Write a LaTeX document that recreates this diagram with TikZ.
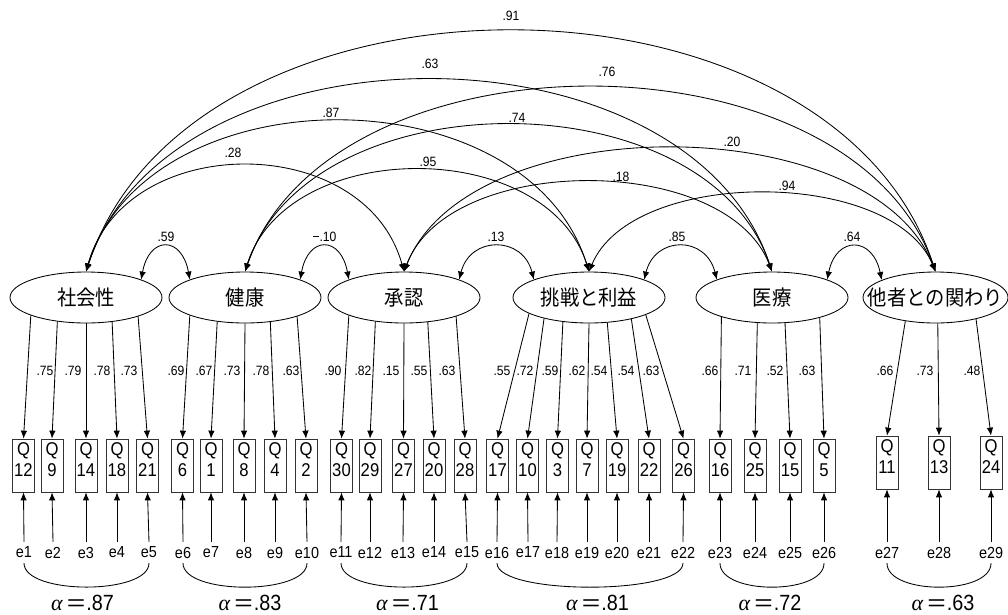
\documentclass[tikz,border=0pt]{standalone}
\usepackage{graphicx}
\usepackage{fontspec}
\setmainfont{Liberation Sans}[FakeStretch=0.9]
\newfontfamily\jpfont{Noto Sans CJK JP}[FakeStretch=0.92]
\newfontfamily\grkfont{Liberation Serif}
\usetikzlibrary{arrows.meta,shapes.geometric}
\newcommand\qtxt[1]{\parbox[c][53pt][t]{22pt}{\centering\fontsize{18.5}{21}\selectfont\vspace*{3.5pt}Q\\#1}}
\newcommand\alphalbl[1]{{\grkfont\itshape α}\hspace{4pt}\scalebox{1.6}[1]{=}\hspace{1pt}#1}
\begin{document}
\begin{tikzpicture}[x=1pt,y=-1pt,
  arr/.style={-{Latex[length=8pt,width=6.5pt]}, line width=0.85pt},
  dbl/.style={{Latex[length=8pt,width=6.5pt]}-{Latex[length=8pt,width=6.5pt]}, line width=0.85pt},
  lat/.style={ellipse, draw, line width=0.85pt, minimum width=152pt, minimum height=51pt, inner sep=0pt, font=\jpfont\fontsize{21}{21}\selectfont},
  obs/.style={draw=black!80, line width=0.75pt, inner sep=0pt},
  err/.style={inner sep=0pt, outer sep=5pt, font=\fontsize{16}{16}\selectfont},
  lbl/.style={inner sep=0pt, font=\fontsize{13.5}{13.5}\selectfont},
  alp/.style={anchor=base, inner sep=0pt, font=\fontsize{22}{22}\selectfont},
  earc/.style={line width=0.85pt}
]
\useasboundingbox (0,0) rectangle (1008,614);

% latent variables
\node[lat] (L1) at (86,297.5) {\makebox[0pt]{社会性}};
\node[lat] (L2) at (245,297.5) {\makebox[0pt]{健康}};
\node[lat] (L3) at (404,297.5) {\makebox[0pt]{承認}};
\node[lat] (L4) at (589,297.5) {\makebox[0pt]{挑戦と利益}};
\node[lat] (L5) at (772,297.5) {\makebox[0pt]{医療}};
\node[lat, minimum width=145pt] (L6) at (935.5,297.5) {\makebox[0pt]{他者との関わり}};

% observed variables
\foreach \n/\x in {12/23.5, 9/52, 14/86, 18/117, 21/147.5, 6/182.5, 1/211, 8/244, 4/275, 2/306, 30/341.5, 29/370, 27/403.5, 20/434, 28/465, 17/497.5, 10/527.5, 3/557.5, 7/587, 19/617, 22/649, 26/683.5, 16/720, 25/755, 15/790, 5/824}
  \node[obs] (Q\n) at (\x,465.5) {\qtxt{\n}};
\foreach \n/\x in {11/887, 13/939, 24/991}
  \node[obs] (Q\n) at (\x,462.5) {\qtxt{\n}};

% error terms
\foreach \i/\x/\q in {1/24/12, 2/53/9, 3/86/14, 4/117/18, 5/149/21, 6/183/6, 7/211/1, 8/244/8, 9/275/4, 10/307/2, 11/341/30, 12/370/29, 13/403/27, 14/434/20, 15/467/28, 16/497/17, 17/528/10, 18/557/3, 19/587/7, 20/617/19, 21/649/22, 22/683/26, 23/720/16, 24/755/25, 25/790/15, 26/824/5, 27/887/11, 28/939/13, 29/991/24}{
  \node[err] (e\i) at (\x,552.5) {e\i};
  \draw[arr] (e\i.north) -- (Q\q.south);
}

% loadings
\foreach \L/\q/\dx/\rx in {L1/12/-54/76, L1/9/-28/76, L1/14/0/76, L1/18/26/76, L1/21/53/76, L2/6/-54/76, L2/1/-27/76, L2/8/0/76, L2/4/25/76, L2/2/53/76, L3/30/-54/76, L3/29/-28/76, L3/27/0/76, L3/20/24/76, L3/28/53/76, L4/17/-58/76, L4/10/-44/76, L4/3/-25/76, L4/7/0/76, L4/19/18/76, L4/22/42/76, L4/26/57/76, L5/16/-50/76, L5/25/-14/76, L5/15/13/76, L5/5/48/76, L6/11/-29/72.5, L6/13/2.5/72.5, L6/24/40/72.5}{
  \pgfmathsetmacro\ang{atan2(-25.5*sqrt(1-(\dx/\rx)^2),\dx)+360}
  \draw[arr] (\L.\ang) -- (Q\q.north);
}
\foreach \t/\x [count=\i] in {.75/45, .79/73, .78/102, .73/129, .69/176, .67/204, .73/232, .78/261, .63/291, .90/333, .82/363, .15/391, .55/419, .63/447, .55/502, .72/525, .59/550, .62/577, .54/599, .54/626, .63/651, .66/710, .71/743, .52/775, .63/807, .66/885, .73/925, .48/972}
  \node[lbl] (ld\i) at (\x,371) {\t};

% long correlations
\draw[dbl] (L1.north) .. controls +(105,-320) and +(-105,-320) .. (L6.north);
\draw[dbl] (L1.north) .. controls +(84,-255) and +(-84,-255) .. (L5.north);
\draw[dbl] (L1.north) .. controls +(62,-200) and +(-62,-200) .. (L4.north);
\draw[dbl] (L1.north) .. controls +(39,-141) and +(-39,-141) .. (L3.north);
\draw[dbl] (L2.north) .. controls +(85,-245) and +(-85,-245) .. (L6.north);
\draw[dbl] (L2.north) .. controls +(65,-195) and +(-65,-195) .. (L5.north);
\draw[dbl] (L2.north) .. controls +(42,-135) and +(-42,-135) .. (L4.north);
\draw[dbl] (L3.north) .. controls +(65,-164) and +(-65,-164) .. (L6.north);
\draw[dbl] (L3.north) .. controls +(45,-119) and +(-45,-119) .. (L5.north);
\draw[dbl] (L4.north) .. controls +(43,-104) and +(-43,-104) .. (L6.north);
\node[lbl] (c1) at (511,16) {.91};
\node[lbl] (c2) at (430,64) {.63};
\node[lbl] (c3) at (607,72) {.76};
\node[lbl] (c4) at (331,113) {.87};
\node[lbl] (c5) at (517,118) {.74};
\node[lbl] (c6) at (233,153) {.28};
\node[lbl] (c7) at (428,162) {.95};
\node[lbl] (c8) at (732,142) {.20};
\node[lbl] (c9) at (621,177) {.18};
\node[lbl] (c10) at (787,186) {.94};

% adjacent correlations
\draw[dbl] (L1.18) .. controls +(8,-44) and +(-8,-44) .. (L2.162);
\draw[dbl] (L2.18) .. controls +(8,-44) and +(-8,-44) .. (L3.162);
\draw[dbl] (L3.18) .. controls +(11,-44) and +(-11,-44) .. (L4.162);
\draw[dbl] (L4.18) .. controls +(11,-44) and +(-11,-44) .. (L5.162);
\draw[dbl] (L5.18) .. controls +(9,-44) and +(-9,-44) .. (L6.162);
\node[lbl] (s1) at (166,237) {.59};
\node[lbl] (s2) at (324.5,237) {−.10};
\node[lbl] (s3) at (496,237) {.13};
\node[lbl] (s4) at (677,237) {.85};
\node[lbl] (s5) at (852,237) {.64};

% error groupings
\draw[earc] (e1.south) .. controls +(0,32) and +(0,32) .. (e5.south);
\draw[earc] (e6.south) .. controls +(0,32) and +(0,32) .. (e10.south);
\draw[earc] (e11.south) .. controls +(0,32) and +(0,32) .. (e15.south);
\draw[earc] (e16.south) .. controls +(0,32) and +(0,32) .. (e22.south);
\draw[earc] (e23.south) .. controls +(0,32) and +(0,32) .. (e26.south);
\draw[earc] (e27.south) .. controls +(0,32) and +(0,32) .. (e29.south);

\node[alp] (a1) at (82.5,610) {\alphalbl{.87}};
\node[alp] (a2) at (250,610) {\alphalbl{.83}};
\node[alp] (a3) at (407.5,610) {\alphalbl{.71}};
\node[alp] (a4) at (597.5,610) {\alphalbl{.81}};
\node[alp] (a5) at (770,610) {\alphalbl{.72}};
\node[alp] (a6) at (943,610) {\alphalbl{.63}};
\end{tikzpicture}
\end{document}
